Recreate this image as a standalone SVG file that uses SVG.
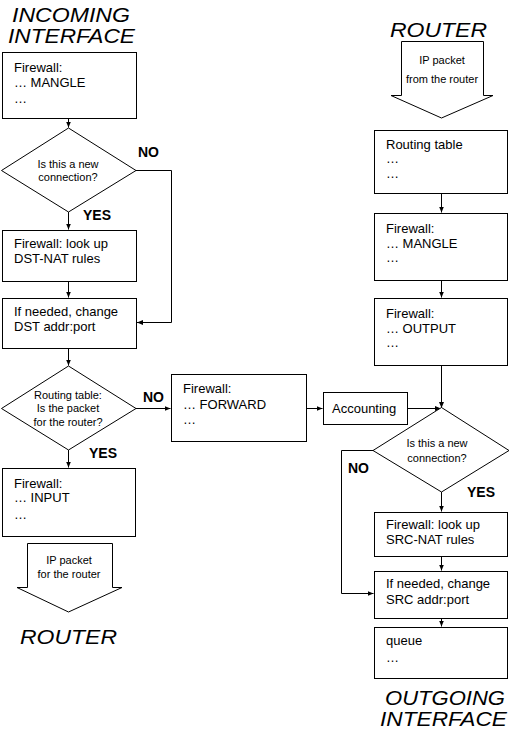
<svg xmlns="http://www.w3.org/2000/svg" width="511" height="737" viewBox="0 0 511 737">
<defs>
<style>
.b{fill:#fff;stroke:#000;stroke-width:1}
.c{fill:none;stroke:#000;stroke-width:1}
.t{font-family:"Liberation Sans",Arial,sans-serif;font-size:13px;fill:#000}
.s{font-family:"Liberation Sans",Arial,sans-serif;font-size:11px;fill:#000;text-anchor:middle}
.l{font-family:"Liberation Sans",Arial,sans-serif;font-size:14px;font-weight:bold;fill:#000}
.h{font-family:"Liberation Sans",Arial,sans-serif;font-size:21px;font-style:italic;fill:#000}
</style>
<marker id="a" markerWidth="7" markerHeight="6" refX="6" refY="3" orient="auto" markerUnits="userSpaceOnUse">
<path d="M0,0.5 L6,3 L0,5.5 Z" fill="#000"/>
</marker>
</defs>
<rect width="511" height="737" fill="#fff"/>

<g id="titles">
<text class="h" x="12" y="22" textLength="118" lengthAdjust="spacingAndGlyphs">INCOMING</text>
<text class="h" x="8" y="43" textLength="127" lengthAdjust="spacingAndGlyphs">INTERFACE</text>
<text class="h" x="390" y="37" textLength="97" lengthAdjust="spacingAndGlyphs">ROUTER</text>
<text class="h" x="20" y="644" textLength="97" lengthAdjust="spacingAndGlyphs">ROUTER</text>
<text class="h" x="385" y="705" textLength="120" lengthAdjust="spacingAndGlyphs">OUTGOING</text>
<text class="h" x="380" y="726" textLength="127" lengthAdjust="spacingAndGlyphs">INTERFACE</text>
</g>

<g id="connectors">
<path class="c" d="M68.5,118.5 V127.5" marker-end="url(#a)"/>
<path class="c" d="M68.5,212 V229.5" marker-end="url(#a)"/>
<path class="c" d="M136,170.5 H171.5 V322.5 H137" marker-end="url(#a)"/>
<path class="c" d="M68.5,281.5 V297.5" marker-end="url(#a)"/>
<path class="c" d="M68.5,348.5 V365.5" marker-end="url(#a)"/>
<path class="c" d="M136,408.5 H170.5" marker-end="url(#a)"/>
<path class="c" d="M68.5,450 V467.5" marker-end="url(#a)"/>
<path class="c" d="M306.5,408.5 H322.5" marker-end="url(#a)"/>
<path class="c" d="M407.5,408.5 H441" marker-end="url(#a)"/>
<path class="c" d="M441.5,193.5 V212.5" marker-end="url(#a)"/>
<path class="c" d="M441.5,280.5 V297.5" marker-end="url(#a)"/>
<path class="c" d="M441.5,365.5 V408" marker-end="url(#a)"/>
<path class="c" d="M441.5,492 V511.5" marker-end="url(#a)"/>
<path class="c" d="M373,450.5 H341.5 V593.5 H373.5" marker-end="url(#a)"/>
<path class="c" d="M441.5,556.5 V570.5" marker-end="url(#a)"/>
<path class="c" d="M441.5,618.5 V626.5" marker-end="url(#a)"/>
</g>

<g id="in-mangle">
<rect class="b" x="2.5" y="52.5" width="134" height="66"/>
<text class="t" x="14" y="72">Firewall:</text>
<text class="t" x="14" y="87">… MANGLE</text>
<text class="t" x="14" y="103">…</text>
</g>

<g id="new-conn-1">
<polygon class="b" points="68.5,128 136,170.5 68.5,212 1.5,170.5"/>
<text class="s" x="68" y="168">Is this a new</text>
<text class="s" x="68" y="181">connection?</text>
<text class="l" x="138" y="157">NO</text>
<text class="l" x="83" y="220">YES</text>
</g>

<g id="dst-nat">
<rect class="b" x="2.5" y="230.5" width="134" height="51"/>
<text class="t" x="14" y="248">Firewall: look up</text>
<text class="t" x="14" y="263">DST-NAT rules</text>
</g>

<g id="dst-change">
<rect class="b" x="2.5" y="298.5" width="134" height="50"/>
<text class="t" x="14" y="316">If needed, change</text>
<text class="t" x="14" y="331">DST addr:port</text>
</g>

<g id="routing-decision">
<polygon class="b" points="68.5,366 136,408.5 68.5,450 1.5,408.5"/>
<text class="s" x="68" y="399">Routing table:</text>
<text class="s" x="68" y="412">Is the packet</text>
<text class="s" x="68" y="426">for the router?</text>
<text class="l" x="143" y="402">NO</text>
<text class="l" x="89" y="458">YES</text>
</g>

<g id="input">
<rect class="b" x="2.5" y="468.5" width="133" height="68"/>
<text class="t" x="14" y="488">Firewall:</text>
<text class="t" x="14" y="502">… INPUT</text>
<text class="t" x="14" y="519">…</text>
</g>

<g id="to-router">
<polygon class="b" points="27.5,543.5 112.5,543.5 112.5,587.5 122,587.5 68.5,612 17,587.5 27.5,587.5"/>
<text class="s" x="69" y="564">IP packet</text>
<text class="s" x="69" y="578">for the router</text>
</g>

<g id="forward">
<rect class="b" x="171.5" y="374.5" width="135" height="67"/>
<text class="t" x="183" y="393">Firewall:</text>
<text class="t" x="183" y="409">… FORWARD</text>
<text class="t" x="183" y="424">…</text>
</g>

<g id="accounting">
<rect class="b" x="323.5" y="392.5" width="84" height="32"/>
<text class="t" x="332" y="413">Accounting</text>
</g>

<g id="from-router">
<polygon class="b" points="401.5,41.5 483.5,41.5 483.5,95.5 493,95.5 441.5,118 391,95.5 401.5,95.5"/>
<text class="s" x="442" y="64">IP packet</text>
<text class="s" x="442" y="83">from the router</text>
</g>

<g id="routing-table">
<rect class="b" x="374.5" y="130.5" width="133" height="63"/>
<text class="t" x="386" y="149">Routing table</text>
<text class="t" x="386" y="163">…</text>
<text class="t" x="386" y="178">…</text>
</g>

<g id="out-mangle">
<rect class="b" x="374.5" y="213.5" width="133" height="67"/>
<text class="t" x="386" y="233">Firewall:</text>
<text class="t" x="386" y="248">… MANGLE</text>
<text class="t" x="386" y="262">…</text>
</g>

<g id="output">
<rect class="b" x="374.5" y="298.5" width="133" height="67"/>
<text class="t" x="386" y="318">Firewall:</text>
<text class="t" x="386" y="333">… OUTPUT</text>
<text class="t" x="386" y="347">…</text>
</g>

<g id="new-conn-2">
<polygon class="b" points="441.5,407.5 509,450.5 441.5,492 373,450.5"/>
<text class="s" x="437" y="447">Is this a new</text>
<text class="s" x="437" y="462">connection?</text>
<text class="l" x="348" y="473">NO</text>
<text class="l" x="467" y="497">YES</text>
</g>

<g id="src-nat">
<rect class="b" x="374.5" y="512.5" width="133" height="44"/>
<text class="t" x="386" y="529">Firewall: look up</text>
<text class="t" x="386" y="544">SRC-NAT rules</text>
</g>

<g id="src-change">
<rect class="b" x="374.5" y="571.5" width="133" height="47"/>
<text class="t" x="386" y="588">If needed, change</text>
<text class="t" x="386" y="604">SRC addr:port</text>
</g>

<g id="queue">
<rect class="b" x="374.5" y="627.5" width="133" height="51"/>
<text class="t" x="386" y="645">queue</text>
<text class="t" x="386" y="662">…</text>
</g>
</svg>
